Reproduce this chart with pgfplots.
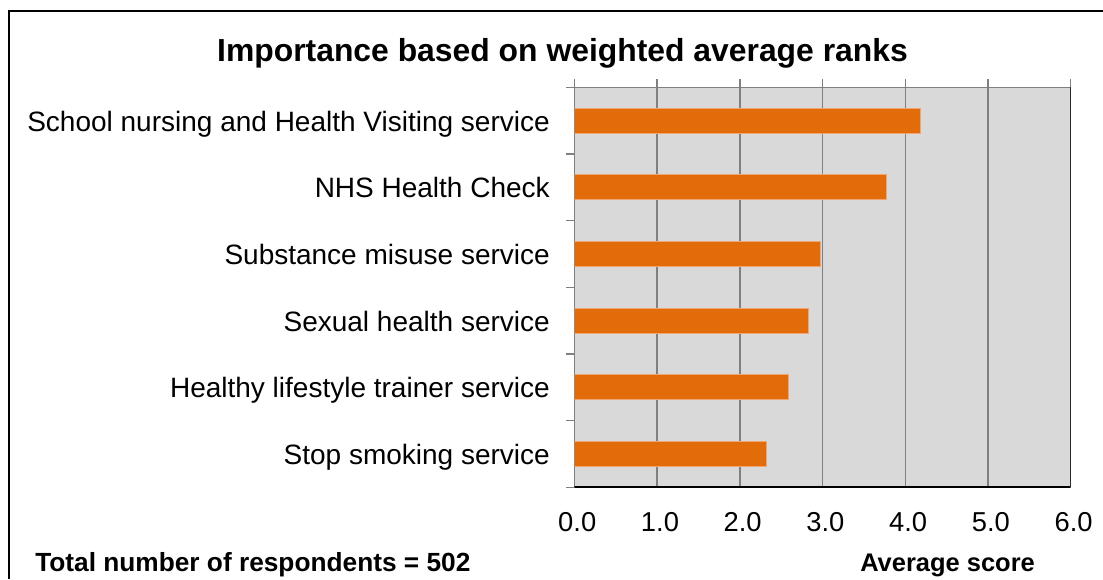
\documentclass[border=0pt]{standalone}
\usepackage{pgfplots}
\pgfplotsset{compat=1.18}
\usepackage{fontspec}
\setmainfont{Liberation Sans}
\definecolor{barorange}{RGB}{227,108,10}
\definecolor{baredge}{RGB}{240,165,115}
\definecolor{plotbg}{RGB}{217,217,217}
\definecolor{gridgray}{RGB}{128,128,128}
\begin{document}
\begin{tikzpicture}[x=0.75pt,y=-0.75pt]
\useasboundingbox (0,0) rectangle (1103,579);
\draw[line width=1.2pt] (9,579) -- (9,11) -- (1103,11);
\coordinate (SW) at (574.3,487.3);
\begin{axis}[
 at={(SW)}, anchor=south west,
 scale only axis, width=372.3pt, height=300pt,
 xbar, bar width=18.75pt,
 xmin=0, xmax=6, ymin=-0.5, ymax=5.5, y dir=reverse,
 xtick={0,...,6}, ytick={0,...,5},
 yticklabels={School nursing and Health Visiting service, NHS Health Check, Substance misuse service, Sexual health service, Healthy lifestyle trainer service, Stop smoking service},
 minor ytick={-0.5,0.5,...,5.5},
 xtick pos=upper, xticklabel pos=lower,
 ytick pos=left,
 tick align=outside,
 major tick length=6pt,
 minor tick length=6pt,
 major y tick style={draw=none},
 minor y tick style={gridgray, line width=1.1pt},
 major x tick style={gridgray, line width=1.1pt},
 xmajorgrids, major grid style={gridgray, line width=1.1pt},
 axis background/.style={fill=plotbg},
 axis line style={draw=none},
 xticklabel style={font=\fontsize{20.5}{24}\selectfont, /pgf/number format/fixed, /pgf/number format/fixed zerofill, /pgf/number format/precision=1, /pgf/number format/assume math mode=true, anchor=base, yshift=-27.3pt, xshift=2.2pt},
 yticklabel style={font=\fontsize{21}{24}\selectfont, anchor=base east, inner sep=0pt, xshift=-12.2pt, yshift=-7.8pt},
]
\addplot[fill=barorange, draw=baredge, line width=0.75pt] coordinates {(4.18,0) (3.77,1) (2.98,2) (2.83,3) (2.59,4) (2.32,5)};
\draw[gridgray, line width=1.1pt] (axis cs:0,5.5) -- (axis cs:0,-0.5) -- (axis cs:6,-0.5);
\draw[black, line width=1.4pt] (axis cs:6,-0.5) -- (axis cs:6,5.5) -- (axis cs:0,5.5);
\end{axis}
\node[anchor=base, inner sep=0pt, font=\bfseries\fontsize{23.9}{28}\selectfont] at (562.5,61) {Importance based on weighted average ranks};
\node[anchor=base west, inner sep=0pt, font=\bfseries\fontsize{19.7}{24}\selectfont] at (35,571) {Total number of respondents = 502};
\node[anchor=base west, inner sep=0pt, font=\bfseries\fontsize{19.1}{24}\selectfont] at (860,571) {Average score};
\end{tikzpicture}
\end{document}
